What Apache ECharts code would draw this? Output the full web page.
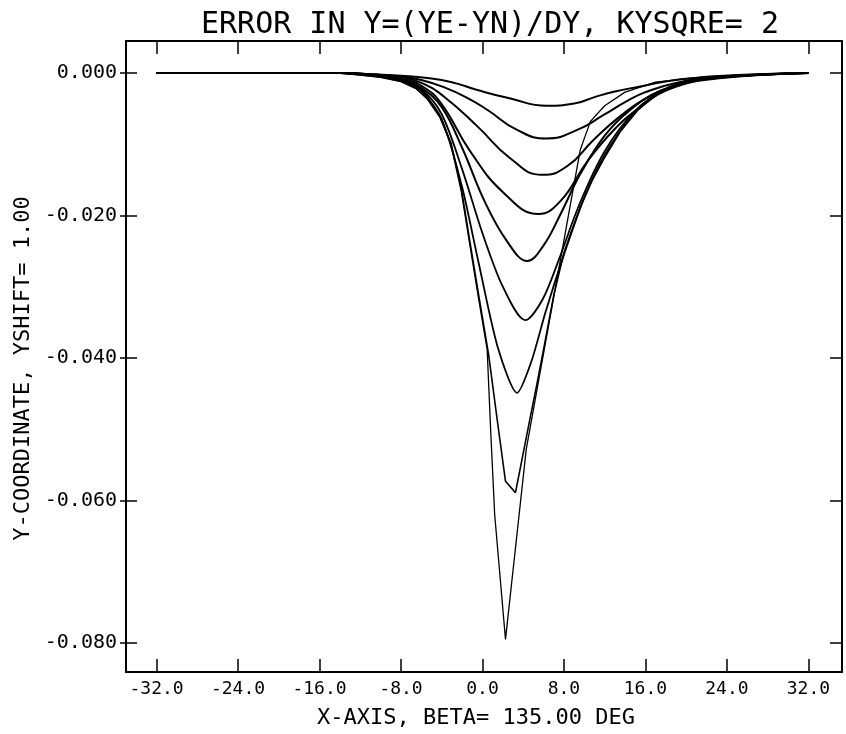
<!DOCTYPE html>
<html>
<head>
<meta charset="utf-8">
<script src="https://cdn.jsdelivr.net/npm/echarts@6/dist/echarts.min.js"></script>
<style>html,body{margin:0;padding:0;background:#fff}#c{width:846px;height:734px}</style>
</head>
<body>
<div id="c"></div>
<script>
const titleText = 'ERROR IN Y=(YE-YN)/DY, KYSQRE= 2';
const xAxisName = 'X-AXIS, BETA= 135.00 DEG';
const yAxisName = 'Y-COORDINATE, YSHIFT= 1.00';
const xTicks = [-32, -24, -16, -8, 0, 8, 16, 24, 32];
const yTicks = [0, -0.02, -0.04, -0.06, -0.08];

const curve1 = [[-32,0],[-14,0],[-11,-0.0002],[-8,-0.0004],[-5.4,-0.0007],[-3,-0.0013],[-0.5,-0.0024],[2.75,-0.0036],[6.3,-0.0046],[9,-0.0043],[11,-0.0034],[13,-0.0026],[15.5,-0.0019],[18,-0.0012],[21,-0.0007],[25,-0.0003],[32,0]];
const curve2 = [[-32,0],[-14,0],[-11,-0.0002],[-8,-0.0005],[-6,-0.0010],[-3.8,-0.0020],[-1.5,-0.0035],[0.5,-0.0052],[3.4,-0.0080],[6.3,-0.0092],[9.3,-0.0080],[11.9,-0.0059],[14,-0.0041],[16,-0.0027],[19,-0.0014],[23,-0.0006],[32,0]];
const curve3 = [[-32,0],[-14,0],[-11,-0.0002],[-8,-0.0006],[-6,-0.0014],[-3.8,-0.0033],[-0.5,-0.0075],[2.75,-0.0120],[5.86,-0.0143],[8.3,-0.0131],[10.9,-0.0094],[13.5,-0.0061],[16,-0.0036],[19,-0.0018],[23,-0.0007],[32,0]];
const curve4 = [[-32,0],[-14,0],[-11,-0.0003],[-8,-0.0008],[-6,-0.0018],[-4.1,-0.0042],[-1.2,-0.0110],[2.06,-0.0168],[5.5,-0.0198],[7.65,-0.0180],[10.3,-0.0124],[12.9,-0.0080],[15.5,-0.0048],[18.5,-0.0022],[23,-0.0008],[32,0]];
const curve5 = [[-32,0],[-14,0],[-11,-0.0003],[-8,-0.0009],[-6,-0.0021],[-4,-0.0048],[-2,-0.0105],[0.2,-0.0180],[2.4,-0.0236],[4.4,-0.0264],[6,-0.0242],[7.6,-0.0200],[9.6,-0.0142],[12,-0.0088],[14.5,-0.0052],[17.5,-0.0025],[22,-0.0008],[32,0]];
const curve6 = [[-32,0],[-14,0],[-11,-0.0003],[-8,-0.0010],[-6,-0.0023],[-4,-0.0058],[-2,-0.0135],[0,-0.0225],[2,-0.0300],[4.2,-0.0347],[5.9,-0.0318],[7.5,-0.0262],[9.5,-0.0185],[12,-0.0110],[15,-0.0053],[18,-0.0023],[22,-0.0008],[32,0]];
const curve7 = [[-32,0],[-14,0],[-11,-0.0003],[-8,-0.0011],[-6,-0.0025],[-4,-0.0065],[-2,-0.0160],[-0.4,-0.0265],[1.5,-0.0385],[3.4,-0.0449],[4.8,-0.0405],[6.2,-0.0335],[8,-0.0255],[10,-0.0175],[12,-0.0115],[15,-0.0054],[18.4,-0.0020],[22,-0.0008],[32,0]];
const curve8 = [[-32,0],[-14,0],[-12,-0.0003],[-10,-0.0006],[-8,-0.0012],[-6.5,-0.0022],[-5.4,-0.0036],[-4.2,-0.0060],[-3.1,-0.0098],[-2.1,-0.0160],[-1.2,-0.0240],[-0.3,-0.0318],[0.6,-0.0395],[1.44,-0.0486],[2.26,-0.0573],[3.24,-0.0589],[4.6,-0.0490],[5.3,-0.0440],[6.0,-0.0388],[7,-0.0312],[8,-0.0252],[9.6,-0.0188],[10.8,-0.0150],[11.9,-0.0121],[13.5,-0.0083],[15.2,-0.0053],[16.8,-0.0033],[18.4,-0.0019],[20,-0.0012],[22,-0.0007],[25,-0.0004],[28,-0.0002],[32,0]];
const curve9 = [[-32,0],[-14,0],[-12,-0.0003],[-10,-0.0006],[-8,-0.0012],[-6.5,-0.0022],[-5.4,-0.0037],[-4.2,-0.0062],[-3.1,-0.0100],[-2.1,-0.0165],[-1.2,-0.0245],[-0.4,-0.0315],[0.46,-0.0388],[0.8,-0.0500],[1.2,-0.0620],[2.26,-0.0795],[4.3,-0.0528],[6.95,-0.0318],[9.6,-0.0108],[10.6,-0.0068],[12,-0.0046],[14,-0.0027],[17,-0.0013],[22,-0.0005],[32,0]];

const curves = [curve1, curve2, curve3, curve4, curve5, curve6, curve7, curve8, curve9];
const smoothness = [0.5, 0.5, 0.5, 0.45, 0.4, 0.3, 0.25, 0, 0];
const widths = [2, 2, 2, 2, 2, 1.8, 1.8, 1.6, 1.3];

const FONT = 'DejaVu Sans Mono';
const xMin = -35, xMax = 35.3, yMin = -0.08407, yMax = 0.00448;
const lineCol = '#000';

const chart = echarts.init(document.getElementById('c'), null, {renderer: 'canvas'});

const baseX = {
  type: 'value', min: xMin, max: xMax,
  splitLine: {show: false},
  axisLine: {show: true, onZero: false, lineStyle: {color: lineCol, width: 2}},
  axisTick: {show: true, inside: true, length: 13, customValues: xTicks, lineStyle: {color: lineCol, width: 1.5}},
  axisLabel: {show: false}
};
const baseY = {
  type: 'value', min: yMin, max: yMax,
  splitLine: {show: false},
  axisLine: {show: true, onZero: false, lineStyle: {color: lineCol, width: 2}},
  axisTick: {show: true, inside: true, length: 11, customValues: yTicks, lineStyle: {color: lineCol, width: 1.5}},
  axisLabel: {show: false}
};

chart.setOption({
  backgroundColor: '#fff',
  animation: false,
  title: {
    text: titleText, left: 196, top: 5,
    textStyle: {fontFamily: FONT, fontSize: 30, fontWeight: 'normal', color: '#000'}
  },
  grid: {left: 126, right: 4, top: 41, bottom: 61, containLabel: false},
  xAxis: [
    Object.assign({}, baseX, {
      position: 'bottom',
      name: xAxisName, nameLocation: 'middle', nameGap: 35,
      nameTextStyle: {fontFamily: FONT, fontSize: 22, color: '#000', padding: [0, 0, 0, -16]},
      axisLabel: {show: true, customValues: xTicks, margin: 8, formatter: v => v.toFixed(1),
        fontFamily: FONT, fontSize: 18, color: '#000'}
    }),
    Object.assign({}, baseX, {position: 'top'})
  ],
  yAxis: [
    Object.assign({}, baseY, {
      position: 'left',
      axisTick: {show: true, inside: false, length: 6, customValues: yTicks, lineStyle: {color: lineCol, width: 1.5}},
      name: yAxisName, nameLocation: 'middle', nameGap: 92,
      nameTextStyle: {fontFamily: FONT, fontSize: 22, color: '#000', padding: [0, 24, 0, 0]},
      axisLabel: {show: true, customValues: yTicks, margin: 9, formatter: v => v.toFixed(3),
        fontFamily: FONT, fontSize: 20, color: '#000'}
    }),
    Object.assign({}, baseY, {position: 'left'}),
    Object.assign({}, baseY, {position: 'right', axisTick: {show: true, inside: true, length: 12, customValues: yTicks, lineStyle: {color: lineCol, width: 1.5}}})
  ],
  series: curves.map((c, i) => ({
    type: 'line',
    xAxisIndex: 0, yAxisIndex: 0,
    data: c,
    showSymbol: false,
    smooth: smoothness[i],
    lineStyle: {color: lineCol, width: widths[i]},
    silent: true
  }))
});
</script>
</body>
</html>
